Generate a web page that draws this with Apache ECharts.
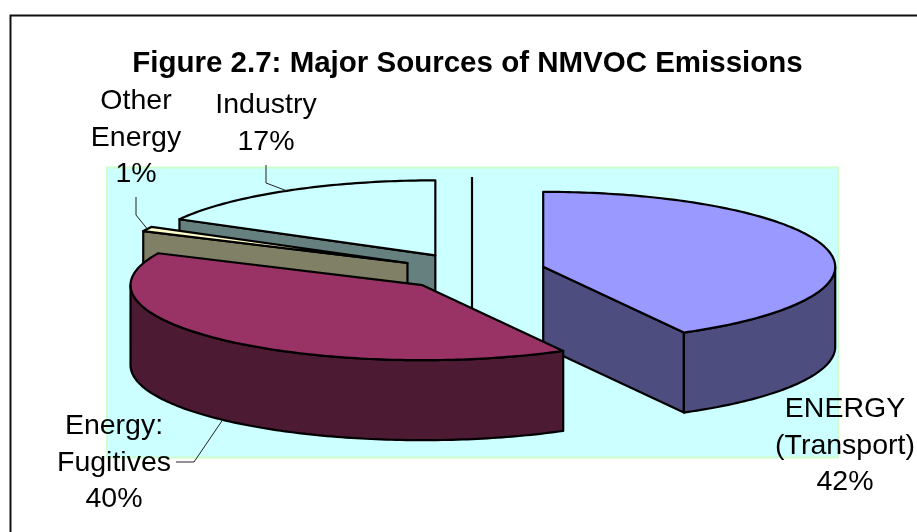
<!DOCTYPE html>
<html>
<head>
<meta charset="utf-8">
<style>html,body{margin:0;padding:0;background:#fff}#chart{width:917px;height:532px}</style>
<script src="https://cdn.jsdelivr.net/npm/echarts@6/dist/echarts.min.js"></script>
</head>
<body>
<div id="chart"></div>
<script>
// Data
var categories = ['ENERGY\n(Transport)', 'Energy:\nFugitives', 'Other\nEnergy', 'Industry'];
var values = [42, 40, 1, 17];
var titleText = 'Figure 2.7: Major Sources of NMVOC Emissions';
// Styles
var topColors = ['#9999ff', '#993366', '#ffffcc', '#ccffff'];
var sideColors = ['#4d4d80', '#4d1a33', '#808066', '#668080'];
// Layout
var pie = {cx: 472.5, cy: 271.5, rx: 292, ry: 75, depth: 80, explode: 0.25};
var plot = {x: 107, y: 167.5, w: 731, h: 290};
var labelCentres = [[845, 391], [114, 408], [136, 83], [266, 87]];
var leaderStart = [null, [[176, 462], [194, 462]], [[136, 197], [136, 215]], [[266, 165], [266, 183]]];
var leaderEndOnBottom = [false, true, false, false];
var drawOrder = [0, 3, 2, 1];

var total = values.reduce(function (a, b) { return a + b; }, 0);
var starts = [], acc = 0;
values.forEach(function (v) { starts.push(acc / total * 360); acc += v; });
function rad(d) { return d * Math.PI / 180; }
function apexOf(i) {
  var mid = rad(starts[i] + values[i] / total * 180);
  return [pie.cx + pie.explode * pie.rx * Math.sin(mid), pie.cy - pie.explode * pie.ry * Math.cos(mid)];
}
function rim(a, deg) { return [a[0] + pie.rx * Math.sin(rad(deg)), a[1] - pie.ry * Math.cos(rad(deg))]; }
function arc(a, from, to) {
  var pts = [], n = Math.max(2, Math.ceil(Math.abs(to - from)));
  for (var k = 0; k <= n; k++) pts.push(rim(a, from + (to - from) * k / n));
  return pts;
}
function down(p) { return [p[0], p[1] + pie.depth]; }
var LW = 2.2;
function poly(points, fill) {
  return {type: 'polygon', shape: {points: points}, style: {fill: fill, stroke: '#000', lineWidth: LW, lineJoin: 'round'}};
}
function renderSlice(params, api) {
  var i = drawOrder[params.dataIndex];
  var a = apexOf(i), s = starts[i], e = s + values[i] / total * 360;
  var kids = [];
  var side = sideColors[i];
  if (Math.sin(rad(s)) < -1e-6) {
    var r = rim(a, s);
    kids.push(poly([a, r, down(r), down(a)], side));
  }
  if (Math.sin(rad(e)) > 1e-6) {
    var r2 = rim(a, e);
    kids.push(poly([a, r2, down(r2), down(a)], side));
  }
  var f = Math.max(s, 90), t = Math.min(e, 270);
  if (t > f) {
    var upper = arc(a, f, t);
    kids.push(poly(upper.concat(upper.slice().reverse().map(down)), side));
  }
  kids.push(poly([a].concat(arc(a, s, e)), topColors[i]));
  return {type: 'group', children: kids};
}
function renderLabels(params, api) {
  var i = params.dataIndex, kids = [];
  kids.push({
    type: 'text', z2: 10,
    style: {
      x: labelCentres[i][0], y: labelCentres[i][1],
      text: categories[i] + '\n' + values[i] + '%',
      font: '28.5px "Liberation Sans", Arial, sans-serif', lineHeight: 36.5,
      fill: '#000', align: 'center', verticalAlign: 'top'
    }
  });
  if (leaderStart[i]) {
    var a = apexOf(i), end = rim(a, starts[i] + values[i] / total * 180);
    if (leaderEndOnBottom[i]) end = down(end);
    kids.push({
      type: 'polyline', z2: 9,
      shape: {points: leaderStart[i].concat([end])},
      style: {fill: null, stroke: '#222', lineWidth: 1}
    });
  }
  return {type: 'group', children: kids};
}
var chart = echarts.init(document.getElementById('chart'), null, {renderer: 'canvas'});
chart.setOption({
  animation: false,
  backgroundColor: '#fff',
  title: {
    text: titleText, left: 462.5, top: 44, textAlign: 'center',
    textStyle: {fontFamily: '"Liberation Sans", Arial, sans-serif', fontWeight: 'bold', fontSize: 29.5, color: '#000'}
  },
  graphic: [
    {type: 'rect', z: -10, shape: {x: plot.x, y: plot.y, width: plot.w, height: plot.h}, style: {fill: '#ccffff', stroke: '#ccffcc', lineWidth: 2}},
    {type: 'polyline', z: -9, shape: {points: [[10.5, 532], [10.5, 15.5], [917, 15.5]]}, style: {fill: null, stroke: '#111', lineWidth: 2}},
    {type: 'line', z: -5, shape: {x1: 472, y1: 177, x2: 472, y2: 312}, style: {stroke: '#000', lineWidth: 2.2}}
  ],
  series: [
    {type: 'custom', coordinateSystem: 'none', renderItem: renderSlice, data: drawOrder.map(function (i) { return values[i]; }), silent: true, z: 2},
    {type: 'custom', coordinateSystem: 'none', renderItem: renderLabels, data: values, silent: true, z: 3}
  ]
});
</script>
</body>
</html>
